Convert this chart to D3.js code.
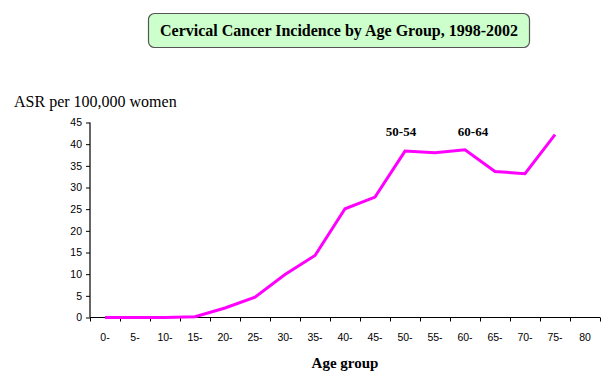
<!DOCTYPE html>
<html><head><meta charset="utf-8">
<script src="https://cdn.jsdelivr.net/npm/d3@7"></script>
<style>
html,body{margin:0;padding:0;background:#fff;}
svg{display:block;}
</style></head>
<body>
<svg id="chart" width="614" height="380"></svg>
<script>
const categories = ["0-","5-","10-","15-","20-","25-","30-","35-","40-","45-","50-","55-","60-","65-","70-","75-","80"];
const asrValues = [0,0,0,0.2,2.2,4.7,9.9,14.3,25.1,27.8,38.4,38.0,38.7,33.7,33.2,42.2];
const yTicks = [0,5,10,15,20,25,30,35,40,45];
const peakLabels = [{cat:"50-",text:"50-54"},{cat:"60-",text:"60-64"}];
const titleText = "Cervical Cancer Incidence by Age Group, 1998-2002";
const yLabel = "ASR per 100,000 women";
const xLabel = "Age group";

(function(){
const svg = d3.select("#chart");
const pLeft = 90, pRight = 600, pTop = 122.5, pBottom = 317.5;

const x = d3.scaleBand().domain(categories).range([pLeft, pRight]).padding(0);
const xb = d3.scaleLinear().domain([0, categories.length]).range([pLeft, pRight]);
const y = d3.scaleLinear().domain([0, 45]).range([pBottom, pTop]);

// Title box
const tg = svg.append("g");
tg.append("rect").attr("x",148.5).attr("y",13.5).attr("width",381).attr("height",34)
  .attr("rx",6).attr("ry",6).attr("fill","#ccffcc").attr("stroke","#555").attr("stroke-width",1.2);
tg.append("text").attr("x",339).attr("y",35.5).attr("text-anchor","middle")
  .attr("font-family","'Liberation Serif','Times New Roman',serif").attr("font-weight","bold")
  .attr("font-size",16).attr("fill","#000").text(titleText);

// Y axis
const yAxis = svg.append("g").attr("transform",`translate(${pLeft},0)`)
  .call(d3.axisLeft(y).tickValues(yTicks).tickSize(4).tickPadding(4));
yAxis.select(".domain").attr("stroke","#000").attr("stroke-width",1.2).attr("d",`M0,${pTop}V${pBottom}`);
yAxis.selectAll(".tick line").attr("stroke","#000");
yAxis.selectAll(".tick text").attr("font-family","'Liberation Sans',Arial,sans-serif").attr("font-size",10.5).attr("fill","#000");

// X axis ticks at band boundaries
const xAxisB = svg.append("g").attr("transform",`translate(0,${pBottom})`)
  .call(d3.axisBottom(xb).tickValues(d3.range(0, categories.length+1)).tickSize(4).tickFormat(""));
xAxisB.select(".domain").attr("stroke","#000").attr("stroke-width",1.2).attr("d",`M${pLeft},0H${pRight}`);
xAxisB.selectAll(".tick line").attr("stroke","#000");

// X labels at band centers
const xAxisL = svg.append("g").attr("transform",`translate(0,${pBottom})`)
  .call(d3.axisBottom(x).tickSize(0).tickPadding(16));
xAxisL.select(".domain").remove();
xAxisL.selectAll(".tick text").attr("font-family","'Liberation Sans',Arial,sans-serif").attr("font-size",10.5).attr("fill","#000");

// Line
const pts = asrValues.map((v,i)=>({cat:categories[i], v}));
const line = d3.line().x(d=>x(d.cat)+x.bandwidth()/2).y(d=>y(d.v));
svg.append("path").datum(pts).attr("d",line).attr("fill","none")
  .attr("stroke","#ff00ff").attr("stroke-width",3).attr("stroke-linejoin","miter");

// Peak labels
svg.selectAll(".peak").data(peakLabels).enter().append("text")
  .attr("x",d=>x(d.cat)+x.bandwidth()/2 - 4 + (d.cat==="60-"?12:0))
  .attr("y",135.5).attr("text-anchor","middle")
  .attr("font-family","'Liberation Serif','Times New Roman',serif").attr("font-weight","bold")
  .attr("font-size",13).attr("fill","#000").text(d=>d.text);

// Axis titles
svg.append("text").attr("x",14).attr("y",106.5)
  .attr("font-family","'Liberation Serif','Times New Roman',serif").attr("font-size",16).attr("fill","#000").text(yLabel);
svg.append("text").attr("x",345).attr("y",368).attr("text-anchor","middle")
  .attr("font-family","'Liberation Serif','Times New Roman',serif").attr("font-weight","bold")
  .attr("font-size",15).attr("fill","#000").text(xLabel);
})();
</script>
</body></html>
